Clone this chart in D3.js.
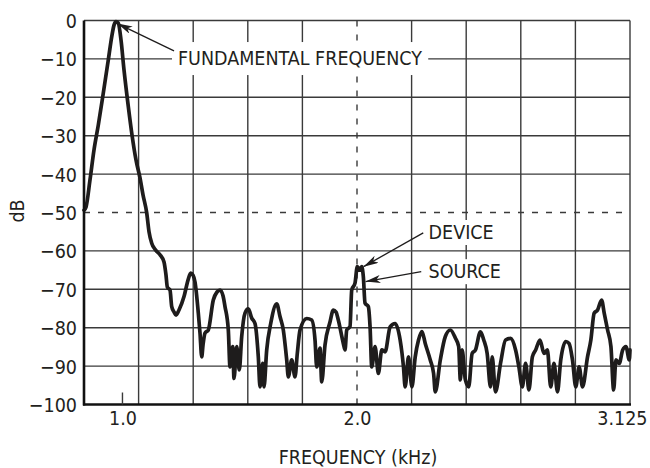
<!DOCTYPE html>
<html><head><meta charset="utf-8">
<script src="https://cdn.jsdelivr.net/npm/d3@7"></script>
<style>
body{margin:0;background:#fff;}
svg text{font-family:"Liberation Sans Narrow","Arial Narrow","DejaVu Sans Condensed",sans-serif;font-size:19.5px;fill:#231f20;}
</style></head><body>
<svg id="c" width="650" height="468"></svg>
<script>
// ---------- data ----------
const yTicks = [0,-10,-20,-30,-40,-50,-60,-70,-80,-90,-100];
const xTickValues = [1.0, 2.0, 3.125];
const xTickLabels = ["1.0","2.0","3.125"];
const xTitle = "FREQUENCY (kHz)";
const yTitle = "dB";

// frequency (kHz)
const freq = [
0.836,0.8445,0.8616,0.8786,0.8970,0.9170,0.9383,0.9554,0.9639,0.9724,
0.9823,0.9938,1.0066,1.0249,1.0407,1.0577,1.0748,1.0876,1.1034,1.1132,
1.1247,1.1417,1.1601,1.1771,1.1856,1.1912,1.2027,1.2100,1.2198,1.2283,
1.2411,1.2624,1.2795,1.2910,1.3008,1.3093,1.3234,1.3306,1.3379,1.3434,
1.3519,1.3660,1.3873,1.4031,1.4159,1.4287,1.4372,1.4513,1.4585,1.4700,
1.4756,1.4871,1.4982,1.5084,1.5225,1.5366,1.5511,1.5651,1.5792,1.5865,
1.5980,1.6035,1.6150,1.6321,1.6577,1.6717,1.6858,1.7003,1.7072,1.7216,
1.7357,1.7455,1.7570,1.7856,1.8069,1.8210,1.8282,1.8423,1.8496,1.8636,
1.8849,1.8990,1.9105,1.9203,1.9417,1.9489,1.9562,1.9702,1.9775,1.9915,
2.0012,2.0124,2.0194,2.0261,2.0331,2.0467,2.0538,2.0608,2.0744,2.0881,
2.1022,2.1158,2.1365,2.1572,2.1778,2.1915,2.1985,2.2122,2.2262,2.2399,
2.2535,2.2676,2.2812,2.3019,2.3156,2.3226,2.3433,2.3640,2.3846,2.4053,
2.4190,2.4260,2.4330,2.4467,2.4603,2.4744,2.4880,2.5087,2.5224,2.5364,
2.5501,2.5571,2.5708,2.5914,2.6121,2.6328,2.6535,2.6671,2.6812,2.6948,
2.7085,2.7226,2.7362,2.7540,2.7706,2.7846,2.7982,2.8119,2.8260,2.8396,
2.8603,2.8739,2.8880,2.9016,2.9153,2.9294,2.9500,2.9637,2.9773,2.9914,
3.0079,3.0187,3.0327,3.0464,3.0576,3.0671,3.0807,3.0948,3.1084,3.1221,
3.125];

// level (dB)
const level = [
-49.4,-48.6,-41.5,-33.7,-27.2,-19.4,-10.8,-3.8,-1.2,-0.3,
-0.7,-5.1,-12.9,-22.4,-29.8,-36.3,-41,-45.4,-50.1,-55,
-58,-59.8,-61,-62.9,-66.3,-69.4,-70.2,-74.5,-75.9,-76.7,
-75.4,-71.9,-67.6,-65.8,-66.3,-68.1,-76.2,-81.4,-87.6,-84.5,
-81.4,-80.6,-72.8,-70.7,-70.2,-71.7,-74.5,-80.6,-90.2,-84.9,
-93.2,-84.9,-91,-82.3,-76.2,-75.1,-77.5,-78.9,-87.6,-95.4,
-89.3,-95.4,-85.8,-78.9,-73.8,-77.1,-80.6,-88.4,-92.8,-88.4,
-92.8,-86.7,-80.6,-77.6,-78,-83.2,-90.2,-85.3,-94.1,-84.5,
-78.5,-75.4,-75.9,-78,-84.1,-85.8,-80.6,-79.7,-70.2,-68.4,
-64.1,-65,-64.1,-66.7,-73.6,-74.5,-79.7,-90.2,-84.9,-91.9,
-85.8,-86.3,-79.8,-78.9,-83.2,-90.2,-95.4,-87.6,-95.4,-87.6,
-83.2,-81,-84.1,-88.4,-91.9,-96.7,-88.4,-82.3,-80.6,-82.7,
-84.9,-93.6,-85.8,-93.6,-95.4,-86.7,-85.8,-81.1,-83.2,-86.7,
-95.4,-87.6,-96.7,-89.3,-83.2,-82.8,-85.8,-90.2,-95.4,-89.3,
-96.2,-87.6,-85.8,-83.2,-86.7,-85.8,-95.4,-89.3,-96.7,-88.4,
-83.6,-84.1,-88.4,-95.4,-90.2,-95.4,-87.6,-83.2,-76.2,-75.4,
-72.8,-76.2,-80.6,-84.9,-96.2,-88.4,-89.3,-85.8,-84.9,-88.4,
-85.8];

// annotation labels (data units): label anchor, arrow start, arrow tip
const annoText = ["FUNDAMENTAL FREQUENCY","DEVICE","SOURCE"];
const annoAt   = [[1.2368,-11.6],[2.2949,-56.9],[2.2949,-67.1]];
const annoFrom = [[1.2198,-7.9],[2.2730,-55.3],[2.2647,-65.4]];
const annoTo   = [[0.9788,-0.8],[2.0269,-64.1],[2.0352,-68.0]];
const annoPad  = [[6,5],[3,1],[3,1]];

// ---------- layout ----------
const margin = {left:84, top:20.5};
const W = 546, H = 384;
const svg = d3.select("#c");
const g = svg.append("g").attr("transform",`translate(${margin.left},${margin.top})`);

const x = d3.scaleLinear().domain([0.836, 2.0, 3.125]).range([0, 273, W]);
const y = d3.scaleLinear().domain([-100, 0]).range([H, 0]);

const gridColor = "#3a3a3a";
// horizontal grid
g.append("g").selectAll("line").data(yTicks.filter(d=>d!==-100)).join("line")
  .attr("x1",0).attr("x2",W).attr("y1",d=>y(d)).attr("y2",d=>y(d))
  .attr("stroke",gridColor).attr("stroke-width",1.4)
  .attr("stroke-dasharray",d=>d===-50?"6,8":null);
// vertical graticule (10 divisions)
const divs = d3.range(1,11).map(i=>i*W/10);
g.append("g").selectAll("line").data(divs).join("line")
  .attr("x1",d=>d).attr("x2",d=>d).attr("y1",0).attr("y2",H)
  .attr("stroke",gridColor).attr("stroke-width",1.4)
  .attr("stroke-dasharray",d=>Math.abs(d-x(2.0))<1?"6,8":null);

// curve
const pts = freq.map((f,i)=>[f, level[i]]);
g.append("path").datum(pts)
  .attr("d", d3.line().x(d=>x(d[0])).y(d=>y(d[1])).curve(d3.curveMonotoneX))
  .attr("fill","none").attr("stroke","#1e1c1c").attr("stroke-width",3.7)
  .attr("stroke-linejoin","round").attr("stroke-linecap","round");

// axes lines
g.append("line").attr("x1",0).attr("x2",0).attr("y1",0).attr("y2",H+1)
  .attr("stroke","#111").attr("stroke-width",2.6);
g.append("line").attr("x1",-1).attr("x2",W+1).attr("y1",H).attr("y2",H)
  .attr("stroke","#111").attr("stroke-width",2.6);
// small tick at 1.0
g.append("line").attr("x1",x(1.0)).attr("x2",x(1.0)).attr("y1",H).attr("y2",H-12)
  .attr("stroke",gridColor).attr("stroke-width",1.4);

// tick labels
const xa = g.append("g").attr("transform",`translate(0,${H})`)
  .call(d3.axisBottom(x).tickValues(xTickValues).tickFormat((d,i)=>xTickLabels[i]).tickSize(0).tickPadding(7));
xa.attr("font-family",null).attr("font-size",null);
xa.select(".domain").remove();
// last label sits flush with the right edge of the picture
xa.selectAll("text").filter(d=>d===xTickValues[xTickValues.length-1])
  .attr("text-anchor","end").attr("dx","17");

const ya = g.append("g")
  .call(d3.axisLeft(y).tickValues(yTicks).tickFormat(d=>d===0?"0":"\u2212"+Math.abs(d)).tickSize(0).tickPadding(7));
ya.attr("font-family",null).attr("font-size",null);
ya.select(".domain").remove();
ya.selectAll("text").attr("dy","0.36em");

// axis titles
g.append("text").attr("x",W/2+1).attr("y",H+59).attr("text-anchor","middle").text(xTitle);
svg.append("text").attr("transform","translate(24,211) rotate(-90)").attr("text-anchor","middle").text(yTitle);

// annotations
const defs = svg.append("defs");
defs.append("marker").attr("id","ah").attr("viewBox","0 0 15 8")
  .attr("refX",15).attr("refY",4).attr("markerWidth",15).attr("markerHeight",8)
  .attr("markerUnits","userSpaceOnUse").attr("orient","auto")
  .append("path").attr("d","M0,0 L15,4 L0,8 L4,4 Z").attr("fill","#1e1c1c");

annoText.forEach((t,i)=>{
  const ag = g.append("g");
  const r = ag.append("rect").attr("fill","#fff");
  const tx = ag.append("text").attr("x",x(annoAt[i][0])).attr("y",y(annoAt[i][1])).text(t);
  const b = tx.node().getBBox();
  r.attr("x",b.x-annoPad[i][0]).attr("y",b.y-annoPad[i][1])
   .attr("width",b.width+2*annoPad[i][0]).attr("height",b.height+2*annoPad[i][1]);
  g.append("line")
    .attr("x1",x(annoFrom[i][0])).attr("y1",y(annoFrom[i][1]))
    .attr("x2",x(annoTo[i][0])).attr("y2",y(annoTo[i][1]))
    .attr("stroke","#1e1c1c").attr("stroke-width",1.3).attr("marker-end","url(#ah)");
});
</script>
</body></html>
